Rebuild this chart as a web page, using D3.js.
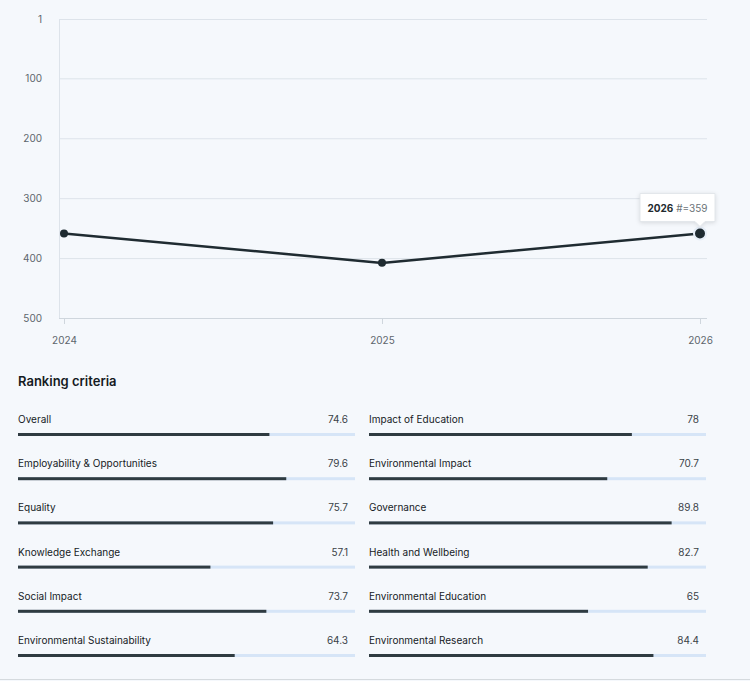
<!DOCTYPE html>
<html>
<head>
<meta charset="utf-8">
<script src="https://cdn.jsdelivr.net/npm/d3@7"></script>
<style>
  html, body { margin: 0; padding: 0; background: #f5f8fc; }
  svg { display: block; font-family: Inter, "Noto Sans", sans-serif; }
</style>
</head>
<body>
<svg id="chart" width="750" height="681"></svg>
<script>
(() => {
  const years = [2024, 2025, 2026];
  const ranks = [359, 408, 359];
  const rankTicks = [1, 100, 200, 300, 400, 500];

  const leftLabels = ["Overall", "Employability & Opportunities", "Equality",
    "Knowledge Exchange", "Social Impact", "Environmental Sustainability"];
  const leftScores = [74.6, 79.6, 75.7, 57.1, 73.7, 64.3];
  const rightLabels = ["Impact of Education", "Environmental Impact", "Governance",
    "Health and Wellbeing", "Environmental Education", "Environmental Research"];
  const rightScores = [78, 70.7, 89.8, 82.7, 65, 84.4];

  const LINE_COLOR = "#1f2b31";
  const GRID_COLOR = "#dde3ea";
  const TICK_TEXT = "#5d666c";
  const TRACK_COLOR = "#d6e5f7";
  const BAR_COLOR = "#2f3b41";

  const svg = d3.select("#chart");

  // rank line chart
  const plot = { left: 59, right: 707, top: 19, bottom: 318 };
  const x = d3.scalePoint().domain(years).range([64, 700]);
  const y = d3.scaleLinear().domain([1, 500]).range([plot.top, plot.bottom]);

  const grid = svg.append("g");
  grid.selectAll("line")
    .data(rankTicks)
    .join("line")
    .attr("x1", plot.left)
    .attr("x2", plot.right)
    .attr("y1", (d) => y(d) + 0.5)
    .attr("y2", (d) => y(d) + 0.5)
    .attr("stroke", GRID_COLOR)
    .attr("stroke-width", 1);

  grid.append("line")
    .attr("x1", plot.left + 0.5)
    .attr("x2", plot.left + 0.5)
    .attr("y1", plot.top)
    .attr("y2", plot.bottom)
    .attr("stroke", GRID_COLOR);

  const yAxis = svg.append("g")
    .attr("transform", `translate(${plot.left - 17},0)`)
    .call(d3.axisLeft(y).tickValues(rankTicks).tickSize(0).tickPadding(0));
  yAxis.select(".domain").remove();
  yAxis.selectAll("text")
    .attr("fill", TICK_TEXT)
    .style("font-size", "10px")
    .style("font-family", "Inter, sans-serif");

  const xAxis = svg.append("g")
    .attr("transform", `translate(0,${plot.bottom})`)
    .call(d3.axisBottom(x).tickSize(6).tickPadding(13).tickFormat(d3.format("d")));
  xAxis.select(".domain")
    .attr("d", `M${plot.left},0.5H${plot.right}`)
    .attr("stroke", "#cfd6dd");
  xAxis.selectAll(".tick line").attr("stroke", "#cfd6dd");
  xAxis.selectAll("text")
    .attr("fill", TICK_TEXT)
    .style("font-size", "10px")
    .style("font-family", "Inter, sans-serif");

  const points = years.map((yr, i) => ({ year: yr, rank: ranks[i] }));

  svg.append("path")
    .datum(points)
    .attr("fill", "none")
    .attr("stroke", LINE_COLOR)
    .attr("stroke-width", 2.5)
    .attr("d", d3.line().x((d) => x(d.year)).y((d) => y(d.rank)));

  svg.selectAll("circle.pt")
    .data(points)
    .join("circle")
    .attr("class", "pt")
    .attr("cx", (d) => x(d.year))
    .attr("cy", (d) => y(d.rank))
    .attr("r", (d, i) => (i === points.length - 1 ? 6 : 4))
    .attr("fill", LINE_COLOR)
    .attr("stroke", (d, i) => (i === points.length - 1 ? "#e6eef8" : "none"))
    .attr("stroke-width", 2);

  // tooltip on the latest point
  const last = points[points.length - 1];
  const tx = x(last.year);
  const ty = y(last.rank);
  const tip = svg.append("g").attr("transform", `translate(${tx},${ty - 12})`);
  const tipW = 75;
  const tipH = 28;
  const tipX = -60;
  tip.append("path")
    .attr("d", `M${tipX},${-tipH}h${tipW}v${tipH}h-${tipW - 60 - 5}l-5,5l-5,-5h-${60 - 5}z`)
    .attr("fill", "#ffffff")
    .attr("stroke", "#e3e7eb")
    .style("filter", "drop-shadow(0 1px 2px rgba(0,0,0,0.12))");
  const tipText = tip.append("text")
    .attr("x", tipX + tipW / 2)
    .attr("y", -tipH / 2 + 4)
    .attr("text-anchor", "middle")
    .style("font-size", "10px");
  tipText.append("tspan")
    .attr("font-weight", 700)
    .attr("fill", "#222a2e")
    .text(last.year);
  tipText.append("tspan")
    .attr("fill", "#6b7378")
    .text(` #=${last.rank}`);

  // ranking criteria bars
  svg.append("text")
    .attr("x", 18)
    .attr("y", 386)
    .attr("fill", "#151b1f")
    .attr("font-weight", 600)
    .style("font-size", "13px")
    .text("Ranking criteria");

  const rowY = d3.scaleLinear().domain([0, 5]).range([419, 640]);
  const columns = [
    { labels: leftLabels, scores: leftScores, x0: 18 },
    { labels: rightLabels, scores: rightScores, x0: 369 },
  ];
  const barW = 337;

  columns.forEach((col) => {
    const bx = d3.scaleLinear().domain([0, 100]).range([col.x0, col.x0 + barW]);
    const rows = col.labels.map((label, i) => ({ label, score: col.scores[i], i }));
    const g = svg.append("g");
    const row = g.selectAll("g.row")
      .data(rows)
      .join("g")
      .attr("class", "row")
      .attr("transform", (d) => `translate(0,${rowY(d.i)})`);

    row.append("text")
      .attr("x", col.x0)
      .attr("y", 4)
      .attr("fill", "#151b1f")
      .style("font-size", "10px")
      .text((d) => d.label);

    row.append("text")
      .attr("x", col.x0 + barW - 7)
      .attr("y", 4)
      .attr("text-anchor", "end")
      .attr("fill", "#3a4247")
      .style("font-size", "10px")
      .text((d) => d.score);

    row.append("rect")
      .attr("x", col.x0)
      .attr("y", 14)
      .attr("width", barW)
      .attr("height", 3)
      .attr("fill", TRACK_COLOR);

    row.append("rect")
      .attr("x", col.x0)
      .attr("y", 14)
      .attr("width", (d) => bx(d.score) - col.x0)
      .attr("height", 3)
      .attr("fill", BAR_COLOR);
  });

  svg.append("line")
    .attr("x1", 0)
    .attr("x2", 750)
    .attr("y1", 679.5)
    .attr("y2", 679.5)
    .attr("stroke", "#d5dade");
})();
</script>
</body>
</html>
